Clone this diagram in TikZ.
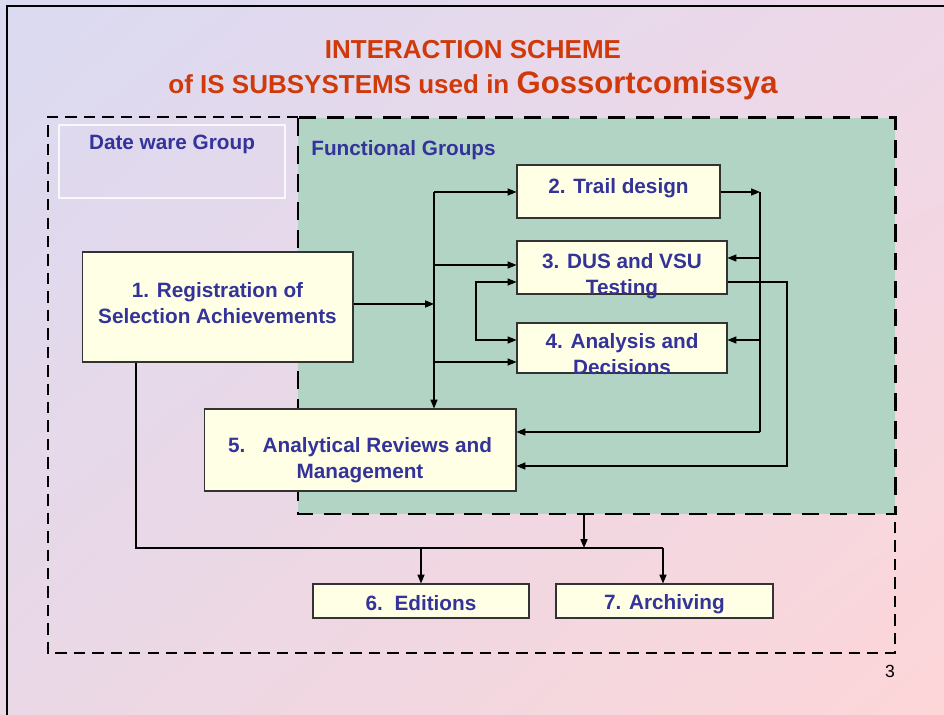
\documentclass[tikz,border=0pt]{standalone}
\usepackage{fontspec}
\setmainfont{Liberation Sans}
\usetikzlibrary{arrows.meta,positioning,shadings}

\definecolor{titlered}{RGB}{208,58,10}
\definecolor{navy}{RGB}{51,51,153}
\definecolor{funcgreen}{RGB}{178,212,196}
\definecolor{boxyellow}{RGB}{255,255,230}
\definecolor{bgUL}{RGB}{218,218,242}
\definecolor{bgUR}{RGB}{238,216,232}
\definecolor{bgLL}{RGB}{234,216,230}
\definecolor{bgLR}{RGB}{253,214,216}

\tikzset{
    box/.style={draw=black!80, fill=boxyellow, line width=0.6pt, inner sep=0pt},
    lbl/.style={text=navy, align=center, inner sep=0pt, font=\bfseries\fontsize{11.8}{14.7}\selectfont},
    wire/.style={line width=0.6pt},
    conn/.style={wire, -{Triangle[length=5pt,width=4pt]}}
}

\begin{document}
\begin{tikzpicture}[x=0.02cm, y=-0.02cm]
        % Background
        \shade[upper left=bgUL, upper right=bgUR, lower left=bgLL, lower right=bgLR] (0,0) rectangle (944,715);
        \useasboundingbox (0,0) rectangle (944,715);
        \draw[line width=1.2pt] (7,715) -- (7,6) -- (944,6);

        % Title
        \node[anchor=base, text=titlered, font=\bfseries\fontsize{14.8}{18}\selectfont] (title1) at (473,59) {INTERACTION SCHEME};
        \node[anchor=base, text=titlered, font=\bfseries\fontsize{14.8}{18}\selectfont] (title2) at (473,94)
            {of IS SUBSYSTEMS used in {\fontsize{17.7}{20}\selectfont Gossortcomissya}};

        % Groups
        \draw[line width=0.85pt, dash pattern=on 6.5pt off 4pt] (298,117) -- (48,117) -- (48,653) -- (895,653) -- (895,514);
        \filldraw[fill=funcgreen, line width=1.7pt, dash pattern=on 10pt off 6pt] (298,118) rectangle (895,514);
        \draw[white!85!bgUL, line width=0.8pt] (59,125) rectangle (285,198);
        \node[lbl] (dataware) at (172,144) {Date ware Group};
        \node[lbl, anchor=base west] (functional) at (311,156) {Functional Groups};

        % Subsystems
        \node[box, minimum width=5.42cm, minimum height=2.2cm] (b1) at (217.5,307) {};
        \node[box, minimum width=4.06cm, minimum height=1.06cm] (b2) at (618.5,191.5) {};
        \node[box, minimum width=4.2cm, minimum height=1.06cm] (b3) at (622,267.5) {};
        \node[box, minimum width=4.2cm, minimum height=1cm] (b4) at (622,348) {};
        \node[box, minimum width=6.24cm, minimum height=1.64cm] (b5) at (360,450) {};
        \node[box, minimum width=4.32cm, minimum height=0.68cm] (b6) at (421,601) {};
        \node[box, minimum width=4.34cm, minimum height=0.68cm] (b7) at (664.5,601) {};

        % Texts
        \node[lbl] (t1) at ([yshift=0.08cm]b1.center) {1. Registration of\\Selection Achievements};
        \node[lbl] (t2) at ([yshift=0.06cm]b2.center) {2. Trail design};
        \node[lbl] (t3) at ([yshift=-0.18cm]b3.center) {3. DUS and VSU\\Testing};
        \node[lbl] (t4) at ([yshift=-0.13cm]b4.center) {4. Analysis and\\Decisions};
        \node[lbl] (t5) at ([yshift=-0.2cm]b5.center) {5.\ \ \ Analytical Reviews and\\Management};
        \node[lbl] (t6) at ([yshift=-0.04cm]b6.center) {6.\ \ Editions};
        \node[lbl] (t7) at ([yshift=-0.06cm]b7.center) {7. Archiving};

        % Left bus
        \coordinate (lbus) at (434,192);
        \draw[conn] (b1.east |- 0,304) -- (lbus |- 0,304);
        \draw[conn] (lbus) -- (lbus |- b5.north);
        \draw[conn] (lbus) -- (b2.west |- lbus);
        \draw[conn] (lbus |- 0,265) -- (b3.west |- 0,265);
        \draw[conn] (lbus |- 0,362) -- (b4.west |- 0,362);
        \draw[wire, {Triangle[length=5pt,width=4pt]}-{Triangle[length=5pt,width=4pt]}]
            (b3.west |- 0,282) -| (476,311) |- (b4.west |- 0,340);

        % Right bus
        \coordinate (rbus) at (760,192);
        \draw[conn] (b2.east |- rbus) -- (rbus);
        \draw[wire] (rbus) -- (760,432);
        \draw[conn] (rbus |- 0,258) -- (b3.east |- 0,258);
        \draw[conn] (rbus |- 0,340) -- (b4.east |- 0,340);
        \draw[conn] (rbus |- 0,432) -- (b5.east |- 0,432);
        \draw[conn] (b3.east |- 0,282) -| (787,466) -- (b5.east |- 0,466);

        % Bottom
        \coordinate (split) at (663,548);
        \draw[wire] (b1.south -| 136,0) |- (split);
        \draw[conn] (584,514) -- (584,548);
        \draw[conn] (b6.north |- split) -- (b6.north);
        \draw[conn] (split) -- (b7.north -| split);

        % Page
        \node[font=\fontsize{10}{12}\selectfont] (page) at (890,671) {3};
    \end{tikzpicture}
\end{document}
